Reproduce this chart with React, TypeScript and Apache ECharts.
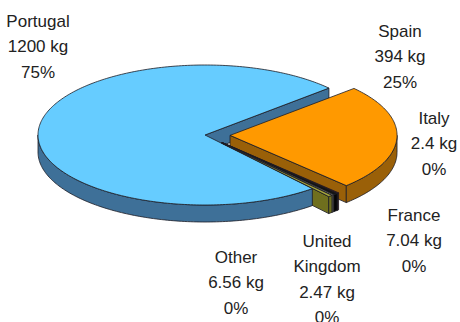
import React, { useEffect, useRef } from "react";
import * as echarts from "echarts";

// ---- data ----
const categories = ["Portugal", "Spain", "Italy", "France", "United Kingdom", "Other"];
const valuesKg = [1200, 394, 2.4, 7.04, 2.47, 6.56];
const percentLabels = ["75%", "25%", "0%", "0%", "0%", "0%"];

// ---- style / layout ----
const explodedFlags = [0, 1, 1, 1, 1, 1];
const topColors = ["#66CCFF", "#FF9900", "#6E1A10", "#141414", "#F4F0C8", "#A3A33A"];
const wallColors = ["#3E7098", "#9A6008", "#3E0C06", "#050505", "#B8B490", "#6F6F1E"];
const EDGE = "#1c1c24";
const CX = 205;
const CY = 135;
const RX = 167;
const RY = 70;
const H = 17;
const EXPLODE = 0.15;
const START_DEG = -50;
const labelAnchors = [
  [38, 21],
  [400, 31],
  [434, 118],
  [414, 215],
  [327, 241],
  [236, 257],
];
const LINE_H = 25.5;
const RAD = Math.PI / 180;

const total = valuesKg.reduce((a, b) => a + b, 0);
const cumBefore = valuesKg.map((_, i) => valuesKg.slice(0, i).reduce((a, b) => a + b, 0));

export default function App() {
  const ref = useRef<HTMLDivElement>(null);
  useEffect(() => {
    if (!ref.current) return;
    const chart = echarts.init(ref.current, undefined, { renderer: "svg" });

    const renderItem = (params: any, api: any) => {
      const i = params.dataIndex;
      const v = api.value(0) as number;
      const sweep = (v / total) * 360;
      const s = START_DEG - (cumBefore[i] / total) * 360;
      const e = s - sweep;
      const mid = ((s + e) / 2) * RAD;
      const ex = explodedFlags[i] ? EXPLODE : 0;
      const ox = CX + ex * RX * Math.cos(mid);
      const oy = CY - ex * RY * Math.sin(mid);
      const P = (deg: number, drop = 0) => [
        ox + RX * Math.cos(deg * RAD),
        oy - RY * Math.sin(deg * RAD) + drop,
      ];
      const arc = (from: number, to: number, drop: number) => {
        const n = Math.max(2, Math.ceil(Math.abs(from - to) / 1) + 1);
        const pts: number[][] = [];
        for (let k = 0; k < n; k++) {
          const d = from + ((to - from) * k) / (n - 1);
          pts.push(P(d, drop));
        }
        return pts;
      };
      const avgY = (pts: number[][]) => pts.reduce((a, p) => a + p[1], 0) / pts.length;
      const children: any[] = [];

      // top face
      children.push({
        type: "polygon",
        z2: 1000,
        shape: { points: [[ox, oy], ...arc(s, e, 0)] },
        style: { fill: topColors[i], stroke: EDGE, lineWidth: 0.8, lineJoin: "round" },
      });

      // outer wall (front half only)
      for (let k = -3; k <= 3; k++) {
        const lo = Math.max(e, 180 + 360 * k);
        const hi = Math.min(s, 360 + 360 * k);
        if (hi > lo) {
          const pts = [...arc(hi, lo, 0), ...arc(lo, hi, H)];
          children.push({
            type: "polygon",
            z2: 100 + avgY(pts),
            shape: { points: pts },
            style: { fill: wallColors[i], stroke: EDGE, lineWidth: 0.8, lineJoin: "round" },
          });
        }
      }
      // start cut face
      if (Math.cos(s * RAD) < 0) {
        const pts = [[ox, oy], P(s), P(s, H), [ox, oy + H]];
        children.push({
          type: "polygon",
          z2: 100 + avgY(pts),
          shape: { points: pts },
          style: { fill: wallColors[i], stroke: EDGE, lineWidth: 0.8, lineJoin: "round" },
        });
      }
      // end cut face
      if (Math.cos(e * RAD) > 0) {
        const pts = [[ox, oy], P(e), P(e, H), [ox, oy + H]];
        children.push({
          type: "polygon",
          z2: 100 + avgY(pts),
          shape: { points: pts },
          style: { fill: wallColors[i], stroke: EDGE, lineWidth: 0.8, lineJoin: "round" },
        });
      }

      // label
      const name = categories[i].replace(" ", "\n");
      const lines = [...name.split("\n"), `${valuesKg[i]} kg`, percentLabels[i]];
      const [lx, ly] = labelAnchors[i];
      lines.forEach((t, li) => {
        children.push({
          type: "text",
          z2: 2000,
          x: lx,
          y: ly + li * LINE_H,
          style: {
            text: t,
            fill: "#222222",
            font: "17px 'Liberation Sans', Arial, sans-serif",
            align: "center",
            verticalAlign: "middle",
            textAlign: "center",
            textVerticalAlign: "middle",
          },
        });
      });

      return { type: "group", children };
    };

    chart.setOption({
      animation: false,
      backgroundColor: "#ffffff",
      series: [
        {
          type: "custom",
          coordinateSystem: "none",
          silent: true,
          renderItem,
          data: valuesKg.map((v, i) => ({ name: categories[i], value: [v] })),
        },
      ],
    });
    return () => chart.dispose();
  }, []);
  return (
    <div
      ref={ref}
      style={{ position: "fixed", left: 0, top: 0, width: 460, height: 322, background: "#fff" }}
    />
  );
}
